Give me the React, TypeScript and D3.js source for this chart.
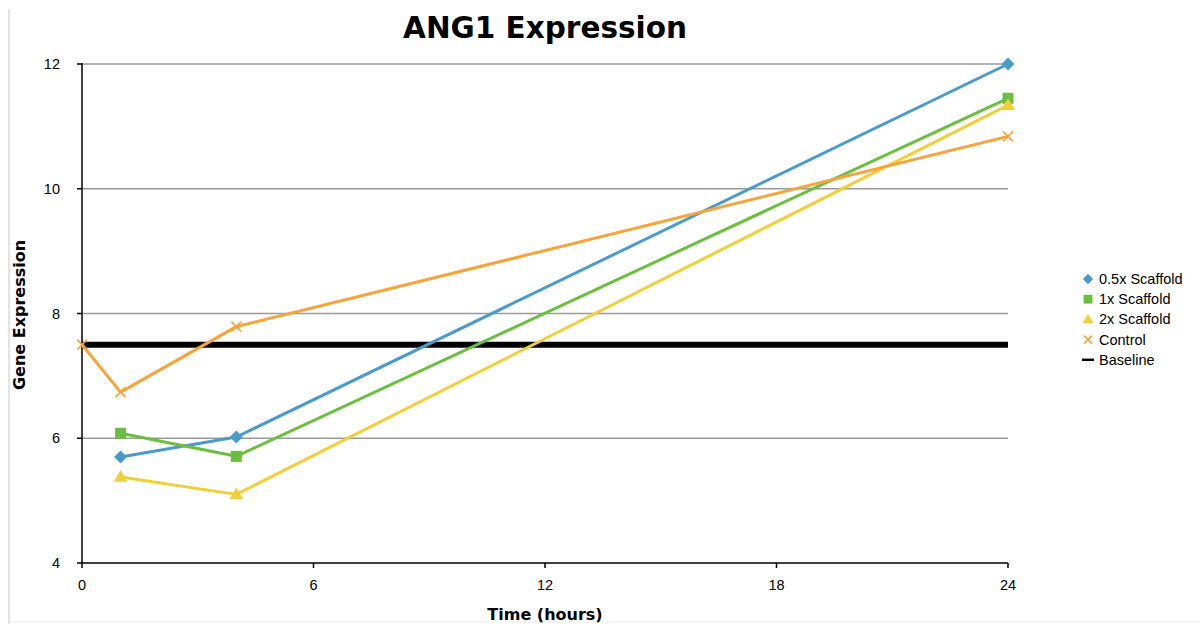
import React from "react";
import * as d3 from "d3";

const times = [1, 4, 24];
const scaffold05 = [5.7, 6.02, 12.0];
const scaffold1 = [6.08, 5.71, 11.45];
const scaffold2 = [5.38, 5.1, 11.34];
const controlTimes = [0, 1, 4, 24];
const control = [7.5, 6.74, 7.79, 10.84];
const baselineTimes = [0, 24];
const baseline = [7.5, 7.5];
const xTicks = [0, 6, 12, 18, 24];
const yTicks = [4, 6, 8, 10, 12];
const seriesNames = ["0.5x Scaffold", "1x Scaffold", "2x Scaffold", "Control", "Baseline"];

const W = 1200, H = 624;
const x = d3.scaleLinear().domain([0, 24]).range([82, 1008]);
const y = d3.scaleLinear().domain([4, 12]).range([563, 64]);

const colors = ["#4a9bcb", "#6bbf3f", "#f0cf3a", "#f9a33a", "#000000"];

function marker(type: string, cx: number, cy: number, color: string, s = 1, key?: any) {
  if (type === "diamond") {
    const r = 6.5 * s;
    return <path key={key} d={`M${cx},${cy - r}L${cx + r},${cy}L${cx},${cy + r}L${cx - r},${cy}Z`} fill={color} />;
  }
  if (type === "square") {
    const r = 5.5 * s;
    return <rect key={key} x={cx - r} y={cy - r} width={2 * r} height={2 * r} fill={color} />;
  }
  if (type === "triangle") {
    const r = 7 * s;
    return <path key={key} d={`M${cx},${cy - r}L${cx + r},${cy + r * 0.7}L${cx - r},${cy + r * 0.7}Z`} fill={color} />;
  }
  if (type === "x") {
    const r = 5 * s;
    return (
      <g key={key} stroke={color} strokeWidth={1.6}>
        <line x1={cx - r} y1={cy - r} x2={cx + r} y2={cy + r} />
        <line x1={cx - r} y1={cy + r} x2={cx + r} y2={cy - r} />
      </g>
    );
  }
  return null;
}

export default function App() {
  const line = d3.line<[number, number]>().x((d) => x(d[0])).y((d) => y(d[1]));
  const series = [
    { t: times, v: scaffold05, m: "diamond" },
    { t: times, v: scaffold1, m: "square" },
    { t: times, v: scaffold2, m: "triangle" },
    { t: controlTimes, v: control, m: "x" },
  ];
  const font = "'Liberation Sans', Arial, sans-serif";
  const boldFont = "'DejaVu Sans', Verdana, sans-serif";
  return (
    <svg width={W} height={H} style={{ position: "absolute", left: 0, top: 0 }}>
      <rect width={W} height={H} fill="#fff" />
      <line x1={9} y1={9} x2={9} y2={H} stroke="#c8c8c8" strokeWidth={1} />
      <line x1={9} y1={622} x2={W} y2={622} stroke="#ececec" strokeWidth={1} />
      <text x={545} y={38} textAnchor="middle" fontFamily={boldFont} fontWeight="bold" fontSize={29.5}>ANG1 Expression</text>
      {yTicks.filter((t) => t !== 4).map((t) => (
        <line key={t} x1={x(0)} x2={x(24)} y1={y(t)} y2={y(t)} stroke="#9a9a9a" strokeWidth={1.5} />
      ))}
      {yTicks.map((t) => (
        <g key={"yt" + t}>
          <line x1={x(0) - 5} x2={x(0)} y1={y(t)} y2={y(t)} stroke="#000" strokeWidth={1.5} />
          <text x={60} y={y(t) + 5} textAnchor="end" fontFamily={font} fontSize={14.5}>{t}</text>
        </g>
      ))}
      {xTicks.map((t) => (
        <g key={"xt" + t}>
          <line x1={x(t)} x2={x(t)} y1={y(4)} y2={y(4) + 5} stroke="#000" strokeWidth={1.5} />
          <text x={x(t)} y={590} textAnchor="middle" fontFamily={font} fontSize={14.5}>{t}</text>
        </g>
      ))}
      <line x1={x(0)} x2={x(0)} y1={y(12) - 1} y2={y(4)} stroke="#000" strokeWidth={1.5} />
      <line x1={x(0)} x2={x(24)} y1={y(4)} y2={y(4)} stroke="#000" strokeWidth={1.5} />
      <text x={545} y={620} textAnchor="middle" fontFamily={boldFont} fontWeight="bold" fontSize={16}>Time (hours)</text>
      <text transform={`translate(25,315) rotate(-90)`} textAnchor="middle" fontFamily={boldFont} fontWeight="bold" fontSize={16}>Gene Expression</text>
      <path d={line(baselineTimes.map((t, i) => [t, baseline[i]]) as any) || ""} stroke="#000" strokeWidth={6} fill="none" />
      {series.map((s, i) => (
        <g key={i}>
          <path d={line(s.t.map((t, j) => [t, s.v[j]]) as any) || ""} stroke={colors[i]} strokeWidth={3} fill="none" strokeLinejoin="round" />
          {s.t.map((t, j) => marker(s.m, x(t), y(s.v[j]), colors[i], 1, j))}
        </g>
      ))}
      {seriesNames.map((n, i) => {
        const cy = 279 + i * 20.2;
        return (
          <g key={n}>
            {i < 4 ? marker(series[i].m, 1088, cy, colors[i], 0.8) : <line x1={1082} x2={1094} y1={cy} y2={cy} stroke="#000" strokeWidth={2.5} />}
            <text x={1099} y={cy + 5} fontFamily={font} fontSize={14.5}>{n}</text>
          </g>
        );
      })}
    </svg>
  );
}
